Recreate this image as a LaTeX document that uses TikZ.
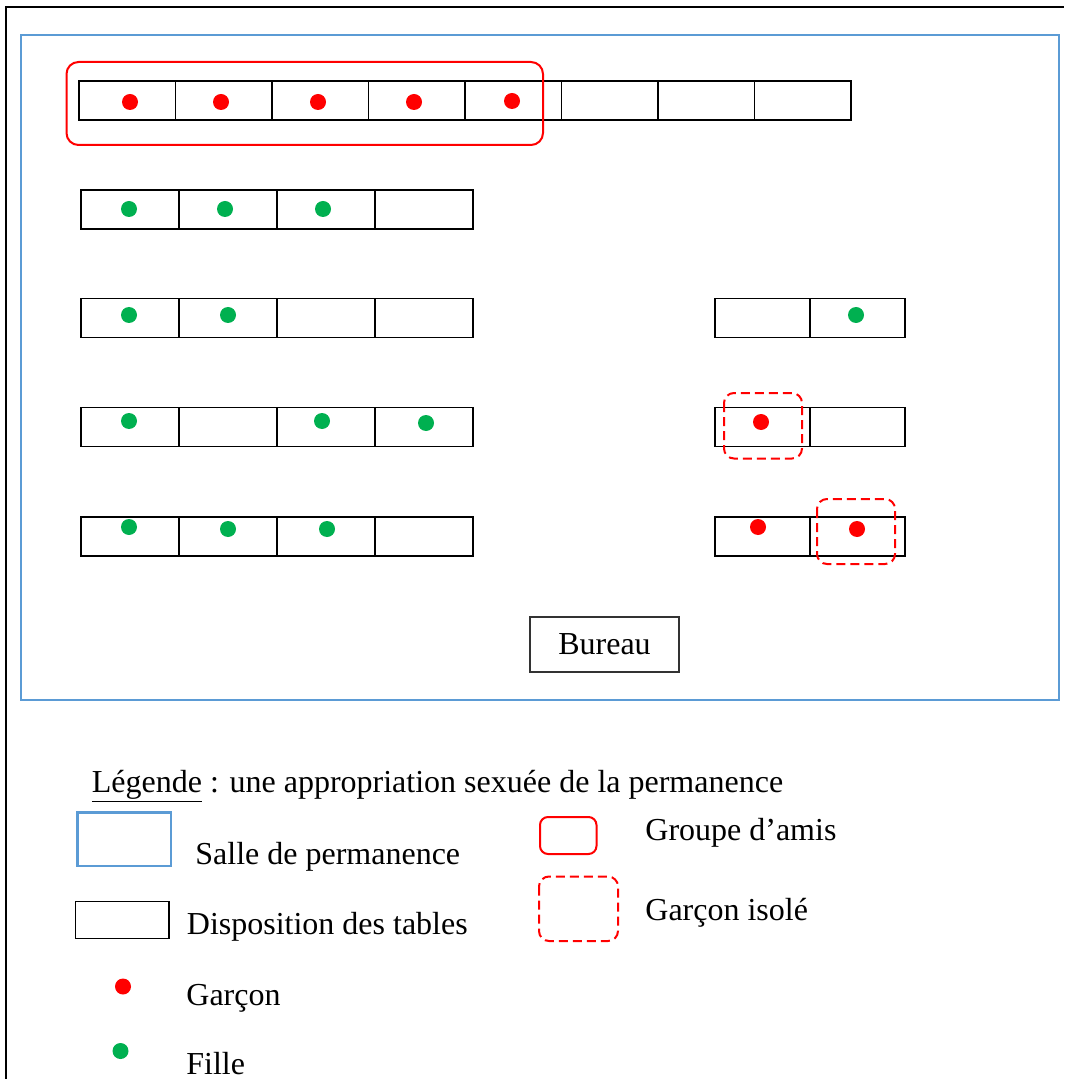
\documentclass[tikz,border=0pt]{standalone}
\usepackage{fontspec}
\setmainfont{Liberation Serif}
\usetikzlibrary{positioning}
\definecolor{salleblue}{RGB}{91,155,213}
\definecolor{garconred}{RGB}{255,0,0}
\definecolor{fillegreen}{RGB}{0,176,80}

\begin{document}
\begin{tikzpicture}[x=0.5pt,y=-0.5pt,
  tablecell/.style={draw,line width=0.9pt,minimum height=19.5pt,inner sep=0pt,outer sep=0pt},
  cellA/.style={tablecell,minimum width=48.25pt},
  cellB/.style={tablecell,minimum width=49pt},
  cellC/.style={tablecell,minimum width=47.6pt},
  garcon/.style={circle,fill=garconred,minimum size=8pt,inner sep=0pt},
  fille/.style={circle,fill=fillegreen,minimum size=8pt,inner sep=0pt},
  groupe/.style={draw=garconred,line width=1pt,rounded corners=6pt},
  isole/.style={draw=garconred,line width=1pt,dash pattern=on 4.5pt off 2.5pt,rounded corners=5pt},
  salle/.style={draw=salleblue,line width=1.4pt},
  legtext/.style={anchor=base west,inner sep=0pt,font=\fontsize{16}{19}\selectfont}]
  \useasboundingbox (0,0) rectangle (1064,1079);

  % cadre
  \draw[line width=0.75pt] (6,1079) -- (6,7) -- (1064,7);
  \draw[salle] (21,35) rectangle (1059,700);

  % rangee 1
  \node[cellA] (a1) at (127.25,100.25) {};
  \node[cellA,right=0pt of a1] (a2) {};
  \node[cellA,right=0pt of a2] (a3) {};
  \node[cellA,right=0pt of a3] (a4) {};
  \node[cellA,right=0pt of a4] (a5) {};
  \node[cellA,right=0pt of a5] (a6) {};
  \node[cellA,right=0pt of a6] (a7) {};
  \node[cellA,right=0pt of a7] (a8) {};

  % rangees 2 a 5
  \node[cellB] (b1) at (130,209.25) {};
  \node[cellB,right=0pt of b1] (b2) {};
  \node[cellB,right=0pt of b2] (b3) {};
  \node[cellB,right=0pt of b3] (b4) {};

  \node[cellB] (c1) at (130,318) {};
  \node[cellB,right=0pt of c1] (c2) {};
  \node[cellB,right=0pt of c2] (c3) {};
  \node[cellB,right=0pt of c3] (c4) {};

  \node[cellB] (d1) at (130,427) {};
  \node[cellB,right=0pt of d1] (d2) {};
  \node[cellB,right=0pt of d2] (d3) {};
  \node[cellB,right=0pt of d3] (d4) {};

  \node[cellB] (e1) at (130,536.5) {};
  \node[cellB,right=0pt of e1] (e2) {};
  \node[cellB,right=0pt of e2] (e3) {};
  \node[cellB,right=0pt of e3] (e4) {};

  % tables de droite
  \node[cellC] (f1) at (762.3,318) {};
  \node[cellC,right=0pt of f1] (f2) {};
  \node[cellC] (h1) at (762.3,427) {};
  \node[cellC,right=0pt of h1] (h2) {};
  \node[cellC] (k1) at (762.3,536.5) {};
  \node[cellC,right=0pt of k1] (k2) {};

  % eleves
  \node[garcon] (ga1) at (130,102) {};
  \node[garcon] (ga2) at (221,102) {};
  \node[garcon] (ga3) at (318,102) {};
  \node[garcon] (ga4) at (414,102) {};
  \node[garcon] (ga5) at (512,101) {};
  \node[fille] (fi1) at (129,209) {};
  \node[fille] (fi2) at (225,209) {};
  \node[fille] (fi3) at (323,209) {};
  \node[fille] (fi4) at (129,315) {};
  \node[fille] (fi5) at (228,315) {};
  \node[fille] (fi6) at (129,421) {};
  \node[fille] (fi7) at (322,421) {};
  \node[fille] (fi8) at (426,423) {};
  \node[fille] (fi9) at (129,527) {};
  \node[fille] (fi10) at (228,529) {};
  \node[fille] (fi11) at (327,529) {};
  \node[fille] (fi12) at (856,315) {};
  \node[garcon] (ga6) at (761,422) {};
  \node[garcon] (ga7) at (758,527) {};
  \node[garcon] (ga8) at (857,529) {};

  % groupes
  \draw[groupe] (66.5,62) rectangle (543,145);
  \draw[isole] (724,393) rectangle (802,458.5);
  \draw[isole] (817,499) rectangle (895,564);

  \node[draw=black!80,line width=0.7pt,minimum width=74.5pt,minimum height=27.5pt,inner sep=0pt,
    font=\fontsize{16}{19}\selectfont] (bureau) at (604.5,644.5) {Bureau};

  % legende
  \node[legtext] (titre) at (91.5,792) {\underline{Légende} : une appropriation sexuée de la permanence};
  \draw[salle] (77.5,812.5) rectangle (171,866);
  \node[legtext] (lsalle) at (195,864) {Salle de permanence};
  \draw[line width=0.6pt] (75.5,901.5) rectangle (169,938.5);
  \node[legtext] (ltables) at (186.5,934) {Disposition des tables};
  \node[garcon] (lg) at (123,986.5) {};
  \node[legtext] (lgarcon) at (186,1005.5) {Garçon};
  \node[fille] (lf) at (120.5,1051) {};
  \node[legtext] (lfille) at (186,1074.5) {Fille};
  \draw[groupe,rounded corners=4pt] (540,817) rectangle (596.5,854);
  \node[legtext] (lgroupe) at (645,840) {Groupe d’amis};
  \draw[isole] (539,876.5) rectangle (618,941);
  \node[legtext] (lisole) at (645,920) {Garçon isolé};
\end{tikzpicture}
\end{document}
